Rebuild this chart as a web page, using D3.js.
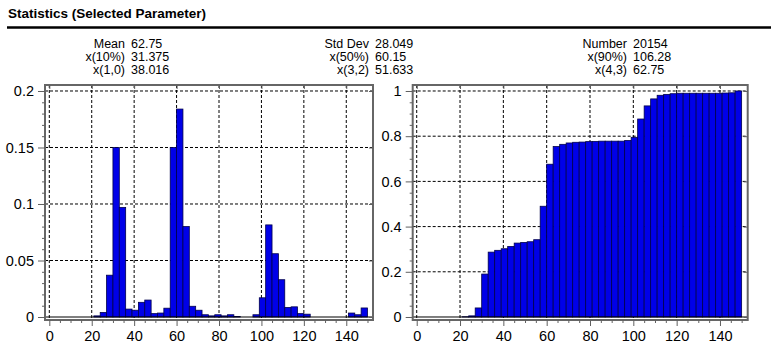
<!DOCTYPE html>
<html>
<head>
<meta charset="utf-8">
<script src="https://cdn.jsdelivr.net/npm/d3@7"></script>
<style>
  body { margin: 0; background: #fff; }
  svg text { font-family: "Liberation Sans", Arial, sans-serif; fill: #000; }
</style>
</head>
<body>
<div id="chart"></div>
<script>
// bins of width 3, left edges
const binStart = [0, 3, 6, 9, 12, 15, 18, 21, 24, 27, 30, 33, 36, 39, 42, 45, 48, 51, 54, 57,
  60, 63, 66, 69, 72, 75, 78, 81, 84, 87, 90, 93, 96, 99, 102, 105, 108, 111, 114, 117,
  120, 123, 126, 129, 132, 135, 138, 141, 144, 147];
const binWidth = 3;

// frequency per bin (left chart)
const density = [0, 0, 0, 0, 0, 0, 0, 0.001, 0.004, 0.037, 0.15, 0.097, 0.007, 0.006, 0.013, 0.015, 0.003, 0.0035, 0.0078, 0.15,
  0.184, 0.08, 0.0095, 0.006, 0.002, 0.001, 0.002, 0.001, 0.002, 0.0005, 0, 0, 0.002, 0.017, 0.0815, 0.056, 0.033, 0.0085, 0.009, 0.003,
  0.0025, 0, 0, 0, 0, 0, 0, 0.0035, 0.002, 0.008];

// cumulative per bin (right chart)
const cumulative = [0, 0, 0, 0, 0, 0, 0, 0.001, 0.005, 0.04, 0.19, 0.287, 0.295, 0.302, 0.312, 0.327, 0.33, 0.333, 0.342, 0.49,
  0.676, 0.754, 0.764, 0.77, 0.773, 0.774, 0.776, 0.777, 0.778, 0.778, 0.778, 0.778, 0.781, 0.795, 0.876, 0.934, 0.965, 0.981, 0.985, 0.988,
  0.99, 0.99, 0.99, 0.99, 0.99, 0.99, 0.99, 0.991, 0.992, 1.0];

const xTicks = [0, 20, 40, 60, 80, 100, 120, 140];
const leftYTicks = [0, 0.05, 0.1, 0.15, 0.2];
const rightYTicks = [0, 0.2, 0.4, 0.6, 0.8, 1];

// stats block: [label, value] per column
const statCols = [
  [["Mean", "62.75"], ["x(10%)", "31.375"], ["x(1,0)", "38.016"]],
  [["Std Dev", "28.049"], ["x(50%)", "60.15"], ["x(3,2)", "51.633"]],
  [["Number", "20154"], ["x(90%)", "106.28"], ["x(4,3)", "62.75"]]
];

const W = 771, H = 349;
const svg = d3.select("#chart").append("svg")
  .attr("width", W)
  .attr("height", H);

// title + rule
svg.append("text")
  .attr("x", 8)
  .attr("y", 18)
  .attr("font-size", 13.5)
  .attr("font-weight", "bold")
  .text("Statistics (Selected Parameter)");

svg.append("line")
  .attr("x1", 7).attr("x2", W)
  .attr("y1", 27.5).attr("y2", 27.5)
  .attr("stroke", "#000")
  .attr("stroke-width", 2.5);

// stats text
const labelEnd = [125, 369, 627];
const valueStart = [131, 375, 633];
statCols.forEach((col, ci) => {
  col.forEach((row, ri) => {
    const yy = 48 + ri * 13;
    svg.append("text")
      .attr("x", labelEnd[ci]).attr("y", yy)
      .attr("text-anchor", "end")
      .attr("font-size", 12.5)
      .text(row[0]);
    svg.append("text")
      .attr("x", valueStart[ci]).attr("y", yy)
      .attr("font-size", 12.5)
      .text(row[1]);
  });
});

function drawPanel(opt) {
  const g = svg.append("g");
  const x = d3.scaleLinear().domain(opt.xDomain).range([opt.left, opt.right]);
  const y = d3.scaleLinear().domain(opt.yDomain).range([opt.bottom, opt.top]);

  // grid
  g.append("g").selectAll("line")
    .data(xTicks)
    .enter()
    .append("line")
    .attr("x1", d => x(d)).attr("x2", d => x(d))
    .attr("y1", opt.top).attr("y2", opt.bottom)
    .attr("stroke", "#000")
    .attr("stroke-dasharray", "3,2");
  g.append("g").selectAll("line")
    .data(opt.yTicks.filter(d => d > 0))
    .enter()
    .append("line")
    .attr("x1", opt.left).attr("x2", opt.right)
    .attr("y1", d => y(d)).attr("y2", d => y(d))
    .attr("stroke", "#000")
    .attr("stroke-dasharray", "3,2");

  // bars
  g.append("g").selectAll("rect")
    .data(binStart.map((s, i) => ({ s: s, v: opt.values[i] })).filter(d => d.v > 0))
    .enter()
    .append("rect")
    .attr("x", d => x(d.s))
    .attr("y", d => y(d.v))
    .attr("width", d => x(d.s + binWidth) - x(d.s))
    .attr("height", d => y(0) - y(d.v))
    .attr("fill", "#0000e8")
    .attr("stroke", "#00004a")
    .attr("stroke-width", 0.8);

  // zero line
  g.append("line")
    .attr("x1", opt.left).attr("x2", opt.right)
    .attr("y1", y(0)).attr("y2", y(0))
    .attr("stroke", "#000");

  // frame
  g.append("rect")
    .attr("x", opt.left).attr("y", opt.top)
    .attr("width", opt.right - opt.left)
    .attr("height", opt.bottom - opt.top)
    .attr("fill", "none")
    .attr("stroke", "#666")
    .attr("stroke-width", 2);

  // y axis: major + minor ticks
  const yAxis = d3.axisLeft(y)
    .tickValues(opt.yTicks)
    .tickFormat(d => d3.format("~g")(d))
    .tickSize(7)
    .tickPadding(4);
  const ya = g.append("g")
    .attr("transform", `translate(${opt.left},0)`)
    .call(yAxis);
  ya.select(".domain").remove();
  ya.selectAll("text").attr("font-size", 14.5).attr("font-family", "Liberation Sans, Arial, sans-serif");
  ya.selectAll("line").attr("stroke", "#606060");

  const yMinor = g.append("g")
    .attr("transform", `translate(${opt.left},0)`)
    .call(d3.axisLeft(y).tickValues(opt.yMinor).tickSize(3).tickFormat(""));
  yMinor.select(".domain").remove();
  yMinor.selectAll("line").attr("stroke", "#606060");

  // x axis
  const xa = g.append("g")
    .attr("transform", `translate(0,${opt.bottom})`)
    .call(d3.axisBottom(x).tickValues(xTicks).tickSize(6).tickPadding(5));
  xa.select(".domain").remove();
  xa.selectAll("text").attr("font-size", 14.5).attr("font-family", "Liberation Sans, Arial, sans-serif");
  xa.selectAll("line").attr("stroke", "#606060");

  const xMinor = g.append("g")
    .attr("transform", `translate(0,${opt.bottom})`)
    .call(d3.axisBottom(x).tickValues(opt.xMinor).tickSize(3).tickFormat(""));
  xMinor.select(".domain").remove();
  xMinor.selectAll("line").attr("stroke", "#606060");

  // inner ticks on top and right
  g.append("g")
    .attr("transform", `translate(0,${opt.top})`)
    .call(d3.axisBottom(x).tickValues(xTicks).tickSize(4).tickFormat(""))
    .call(s => s.select(".domain").remove())
    .selectAll("line").attr("stroke", "#606060");
  g.append("g")
    .attr("transform", `translate(${opt.right},0)`)
    .call(d3.axisLeft(y).tickValues(opt.yTicks).tickSize(4).tickFormat(""))
    .call(s => s.select(".domain").remove())
    .selectAll("line").attr("stroke", "#606060");
}

const xMinorTicks = [5, 10, 15, 25, 30, 35, 45, 50, 55, 65, 70, 75, 85, 90, 95, 105, 110, 115, 125, 130, 135, 145, 150];

drawPanel({
  left: 45, right: 373, top: 85, bottom: 320,
  xDomain: [-2.03, 152.6],
  yDomain: [-0.00265, 0.2053],
  yTicks: leftYTicks,
  yMinor: [0.01, 0.02, 0.03, 0.04, 0.06, 0.07, 0.08, 0.09, 0.11, 0.12, 0.13, 0.14, 0.16, 0.17, 0.18, 0.19],
  xMinor: xMinorTicks,
  values: density
});

drawPanel({
  left: 412.7, right: 747.7, top: 85, bottom: 320,
  xDomain: [-1.85, 152.8],
  yDomain: [-0.0133, 1.0265],
  yTicks: rightYTicks,
  yMinor: [0.05, 0.1, 0.15, 0.25, 0.3, 0.35, 0.45, 0.5, 0.55, 0.65, 0.7, 0.75, 0.85, 0.9, 0.95],
  xMinor: xMinorTicks,
  values: cumulative
});
</script>
</body>
</html>
